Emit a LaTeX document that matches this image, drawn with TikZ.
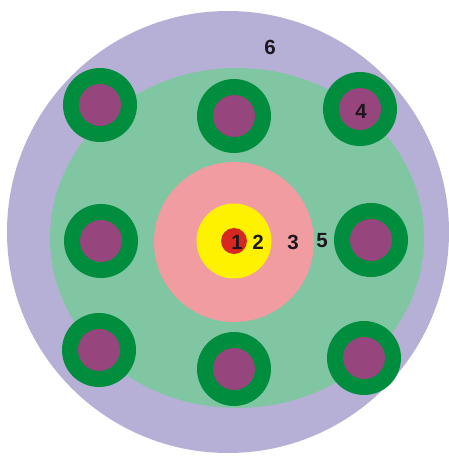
\documentclass[tikz,border=0pt]{standalone}
\usepackage{fontspec}
\setmainfont{Liberation Sans}
\definecolor{outerlav}{RGB}{182,176,214}
\definecolor{fieldgreen}{RGB}{128,198,163}
\definecolor{ringgreen}{RGB}{0,141,62}
\definecolor{corepurple}{RGB}{150,70,124}
\definecolor{zonepink}{RGB}{240,156,160}
\definecolor{zoneyellow}{RGB}{255,242,0}
\definecolor{zonered}{RGB}{214,40,32}
\definecolor{labelblack}{RGB}{30,22,30}
\begin{document}
\begin{tikzpicture}[x=1pt, y=-1pt,
    ring/.style={circle, fill=ringgreen, minimum size=74pt, inner sep=0pt},
    core/.style={circle, fill=corepurple, minimum size=42pt, inner sep=0pt},
    zone/.style={circle, inner sep=0pt},
    lbl/.style={font=\fontsize{20.5}{20.5}\selectfont\bfseries, text=labelblack, inner sep=0pt}]
    \useasboundingbox (0,0) rectangle (449,459);
    % outer body and field
    \fill[outerlav] (228,232) circle (221pt);
    \fill[fieldgreen] (237,238) ellipse (187pt and 170pt);
    % centre zones
    \node[zone, fill=zonepink, minimum size=160pt] (pink) at (234,242) {};
    \node[zone, fill=zoneyellow, minimum size=75pt] (yellow) at (234,241) {};
    \node[zone, fill=zonered, minimum size=26pt] (red) at (234,241) {};
    % ring cells
    \foreach \n/\x/\y in {tl/100/105, tm/234/116, tr/360/109,
                          ml/101/241, mr/371/240,
                          bl/99/350, bm/234/369, br/364/358}
    {
        \node[ring] (ring-\n) at (\x,\y) {};
        \node[core] (core-\n) at (\x,\y) {};
    }
    % labels
    \node[lbl] (l1) at (237,242) {1};
    \node[lbl] (l2) at (258,242) {2};
    \node[lbl] (l3) at (293,242) {3};
    \node[lbl] (l4) at (361,111) {4};
    \node[lbl] (l5) at (322,241) {5};
    \node[lbl] (l6) at (270,47) {6};
\end{tikzpicture}
\end{document}
